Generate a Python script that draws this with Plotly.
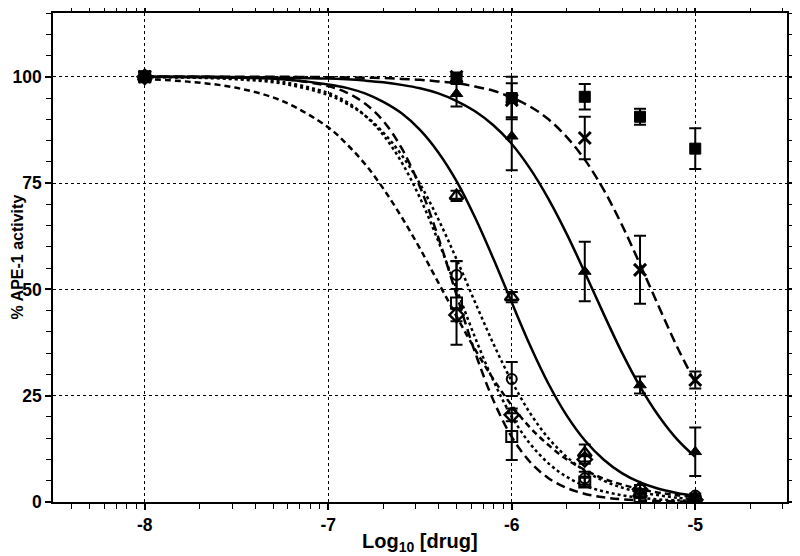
import numpy as np
import plotly.graph_objects as go

# ---- data ----
log_dose = [-8, -6.301, -6, -5.602, -5.301, -5]

filled_sq = [100, 99.5, 95.0, 95.3, 90.6, 83.1]
filled_sq_err = [0, 1.0, 5.0, 3.0, 1.9, 4.8]
x_mark = [100, 100, 94.5, 85.6, 54.6, 28.7]
x_mark_err = [0, 1.0, 4.0, 5.0, 8.0, 2.0]
filled_tri = [100, 96.0, 86.0, 54.2, 27.5, 11.8]
filled_tri_err = [0, 3.0, 8.0, 7.0, 2.0, 5.7]
open_tri = [100, 72.0, 48.2, 11.5, 2.0, 1.0]
open_tri_err = [0, 1.2, 1.2, 2.0, 1.0, 0.5]
circle = [100, 53.4, 28.9, 5.6, 2.0, 1.5]
circle_err = [0, 3.3, 4.0, 1.5, 1.0, 0.5]
diamond = [100, 44.0, 20.5, 10.0, 3.0, 0.5]
diamond_err = [0, 1.5, 1.5, 1.0, 1.0, 0.5]
open_sq = [100, 46.8, 15.4, 4.7, 1.0, 0.0]
open_sq_err = [0, 9.8, 5.5, 1.0, 1.0, 0.5]

# fitted curves
fit_x = [-8, -7.75, -7.5, -7.25, -7, -6.9, -6.8, -6.7, -6.6, -6.5, -6.4, -6.3, -6.2,
         -6.1, -6, -5.9, -5.8, -5.7, -5.6, -5.5, -5.4, -5.3, -5.2, -5.1, -5]
fit_a = [99.5, 98.8, 97.4, 94.3, 88.1, 84.2, 79.5, 73.7, 67.0, 59.6, 51.6, 43.6, 35.9,
         28.9, 22.7, 17.5, 13.4, 10.0, 7.5, 5.5, 4.1, 3.0, 2.2, 1.6, 1.2]
fit_sq = [100, 100, 99.9, 99.5, 97.8, 96.3, 93.7, 89.6, 83.2, 74.1, 62.2, 48.6, 35.2,
          23.9, 15.3, 9.4, 5.6, 3.3, 1.9, 1.1, 0.65, 0.38, 0.22, 0.13, 0.07]
fit_circle = [99.9, 99.8, 99.4, 98.4, 95.7, 93.7, 90.9, 86.9, 81.6, 74.8, 66.5, 57.0, 47.0,
              37.2, 28.4, 20.9, 15.0, 10.6, 7.3, 5.0, 3.4, 2.3, 1.6, 1.0, 0.7]
fit_diamond = [100, 99.9, 99.6, 98.8, 96.2, 94.1, 90.9, 86.3, 79.9, 71.5, 61.3, 50.0, 38.7,
               28.5, 20.1, 13.7, 9.1, 5.9, 3.8, 2.5, 1.6, 1.0, 0.6, 0.4, 0.25]
fit_open_tri = [100, 99.9, 99.8, 99.4, 98.2, 97.4, 96.1, 94.1, 91.4, 87.5, 82.2, 75.4, 66.9,
                57.2, 46.9, 36.8, 27.8, 20.3, 14.4, 10.0, 6.8, 4.6, 3.1, 2.1, 1.4]
fit_filled_tri = [100, 100, 99.9, 99.8, 99.6, 99.4, 99.1, 98.7, 98.1, 97.3, 96.1, 94.3, 91.9,
                  88.6, 84.2, 78.4, 71.3, 63.0, 53.8, 44.3, 35.2, 27.1, 20.3, 14.8, 10.6]
fit_x_mark = [100, 100, 100, 100, 99.9, 99.85, 99.8, 99.7, 99.5, 99.3, 98.9, 98.5, 97.7,
              96.7, 95.1, 93.0, 90.0, 85.8, 80.4, 73.5, 65.2, 55.8, 46.1, 36.6, 28.1]

x_ticks = [-8, -7, -6, -5]
x_tick_labels = ["-8", "-7", "-6", "-5"]
y_ticks = [0, 25, 50, 75, 100]
y_tick_labels = ["0", "25", "50", "75", "100"]

FONT = "Liberation Sans, Arial, sans-serif"
fig = go.Figure()

curves = [
    (fit_a, "6px,4px", 2.5),
    (fit_sq, "9px,5px", 2.5),
    (fit_diamond, "3px,3px", 2.5),
    (fit_circle, "3px,3px", 2.5),
    (fit_open_tri, "solid", 2.5),
    (fit_filled_tri, "solid", 2.5),
    (fit_x_mark, "10px,5px", 2.5),
]
for ys, dash, w in curves:
    fig.add_trace(go.Scatter(x=fit_x, y=ys, mode="lines",
                             line=dict(color="black", width=w, dash=dash, shape="spline"),
                             showlegend=False, hoverinfo="skip"))

series = [
    (filled_sq, filled_sq_err, "square", 11, 1),
    (x_mark, x_mark_err, "x-thin-open", 12, 3),
    (filled_tri, filled_tri_err, "triangle-up", 11, 1),
    (open_tri, open_tri_err, "triangle-up-open", 12, 2.4),
    (circle, circle_err, "circle-open", 10, 2),
    (diamond, diamond_err, "diamond-open", 11, 2.4),
    (open_sq, open_sq_err, "square-open", 11, 2),
]
for ys, err, sym, size, lw in series:
    fig.add_trace(go.Scatter(
        x=log_dose, y=ys, mode="markers",
        marker=dict(symbol=sym, size=size, color="black",
                    line=dict(color="black", width=lw)),
        error_y=dict(type="data", array=err, visible=True, color="black",
                     thickness=2, width=6),
        showlegend=False))

minor_x = []
for d in range(-9, -4):
    for k in range(2, 10):
        v = d + np.log10(k)
        if -8.5 <= v <= -4.5:
            minor_x.append(float(v))

axis_common = dict(showline=True, linecolor="black", linewidth=1.5, mirror="ticks",
                   ticks="outside", ticklen=6, tickwidth=1.5, tickcolor="black",
                   showgrid=True, gridcolor="black", gridwidth=1, griddash="dot",
                   zeroline=False, automargin=False,
                   tickfont=dict(family=FONT, size=17.5, color="black", weight="bold"))

fig.update_xaxes(range=[-8.5, -4.5], tickmode="array", tickvals=x_ticks,
                 ticktext=x_tick_labels,
                 minor=dict(tickmode="array", tickvals=minor_x, ticks="outside",
                            ticklen=5, tickwidth=1.2, tickcolor="black", showgrid=False),
                 **axis_common)
fig.update_yaxes(range=[0, 115], tickmode="array", tickvals=y_ticks,
                 ticktext=y_tick_labels,
                 minor=dict(dtick=5, tick0=0, ticks="outside", ticklen=5, tickwidth=1.2,
                            tickcolor="black", showgrid=False),
                 **axis_common)

fig.add_annotation(text="<b>Log<sub>10</sub> [drug]</b>", xref="paper", yref="paper",
                   x=0.5, y=0, xanchor="center", yanchor="middle", yshift=-40,
                   showarrow=False, font=dict(family=FONT, size=20, color="black"))
fig.add_annotation(text="<b>% APE-1 activity</b>", xref="paper", yref="paper",
                   x=0, y=0.5, xanchor="center", yanchor="middle", xshift=-36,
                   textangle=-90, showarrow=False,
                   font=dict(family=FONT, size=16, color="black"))

# the page body adds an 8px offset, so the figure is 8px smaller on each leading side
fig.update_layout(width=792, height=548,
                  margin=dict(l=45, r=13, t=5, b=54, autoexpand=False),
                  paper_bgcolor="white", plot_bgcolor="white",
                  showlegend=False)

fig.write_html("out.html")
